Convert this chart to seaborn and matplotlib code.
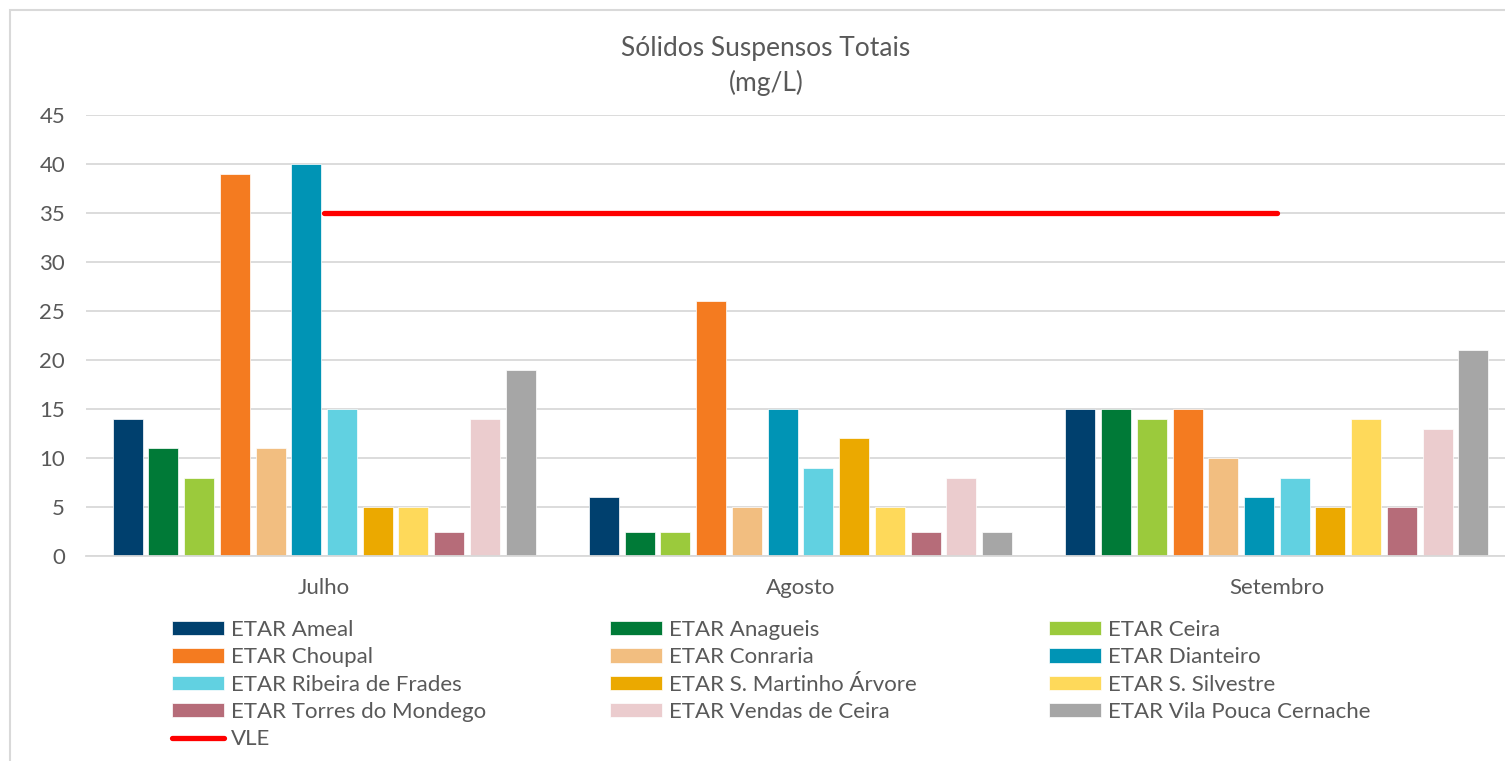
import pandas as pd
import matplotlib
matplotlib.use('Agg')
import matplotlib.pyplot as plt
from matplotlib.patches import Rectangle
import seaborn as sns

# data
meses = ['Julho', 'Agosto', 'Setembro']
etars = ['ETAR Ameal', 'ETAR Anagueis', 'ETAR Ceira', 'ETAR Choupal', 'ETAR Conraria',
         'ETAR Dianteiro', 'ETAR Ribeira de Frades', 'ETAR S. Martinho Árvore',
         'ETAR S. Silvestre', 'ETAR Torres do Mondego', 'ETAR Vendas de Ceira',
         'ETAR Vila Pouca Cernache']
julho = [14, 11, 8, 39, 11, 40, 15, 5, 5, 2.5, 14, 19]
agosto = [6, 2.5, 2.5, 26, 5, 15, 9, 12, 5, 2.5, 8, 2.5]
setembro = [15, 15, 14, 15, 10, 6, 8, 5, 14, 5, 13, 21]
vle = [35, 35, 35]
cores = ['#00406E', '#007A37', '#9BCA3C', '#F47B20', '#F2BE80', '#0094B5',
         '#61D1E1', '#EBA900', '#FED95A', '#B66C79', '#EBCCCE', '#A6A6A6']

rows = []
for mes, vals in zip(meses, [julho, agosto, setembro]):
    for e, v in zip(etars, vals):
        rows.append({'mes': mes, 'etar': e, 'valor': v})
df = pd.DataFrame(rows)

sns.set_style('white')
plt.rcParams['font.family'] = ['Lato', 'DejaVu Sans']
txt = '#595959'

fig = plt.figure(figsize=(15.05, 7.61), dpi=100)
ax = fig.add_axes([86/1505, 1-556/761, 1429/1505, (556-115)/761])

sns.barplot(data=df, x='mes', y='valor', hue='etar', order=meses, hue_order=etars,
            palette=dict(zip(etars, cores)), saturation=1, width=0.9, gap=0.16, ax=ax,
            edgecolor='white', linewidth=0.5, errorbar=None)
ax.plot(range(len(meses)), vle, color='#FF0000', linewidth=3.8,
        solid_capstyle='round', label='VLE', zorder=5)

ax.set_ylim(0, 45)
ax.set_xlim(-0.5, 2.5)
ax.set_yticks(range(0, 50, 5))
ax.grid(axis='y', color='#D9D9D9', linewidth=1.3)
ax.set_axisbelow(True)
for s in ['top', 'right', 'left']:
    ax.spines[s].set_visible(False)
ax.spines['bottom'].set_color('#D9D9D9')
ax.spines['bottom'].set_linewidth(1.3)
ax.tick_params(axis='both', length=0, labelsize=16, labelcolor=txt)
ax.tick_params(axis='y', pad=15)
ax.tick_params(axis='x', pad=16)
ax.set_xlabel('')
ax.set_ylabel('')

fig.text(766/1505, 1-66/761, 'Sólidos Suspensos Totais\n(mg/L)', ha='center', va='center',
         fontsize=19, color=txt, linespacing=1.45)

# legend: three columns, filled row by row like the original
handles, labels = ax.get_legend_handles_labels()
ax.get_legend().remove()
cols = [[0, 3, 6, 9, 12], [1, 4, 7, 10], [2, 5, 8, 11]]
xs = [172, 610, 1049]
for idx, x0 in zip(cols, xs):
    leg = fig.legend([handles[i] for i in idx], [labels[i] for i in idx], ncol=1,
                     loc='upper left', bbox_to_anchor=(x0/1505, 1-620/761), frameon=False,
                     fontsize=16, handlelength=2.35, handleheight=0.6, handletextpad=0.3,
                     labelspacing=0.33, borderaxespad=0, borderpad=0)
    for t in leg.get_texts():
        t.set_color(txt)

# outer frame
fig.patches.append(Rectangle((10/1505, -0.1), 1.2, 1-10/761+0.1, transform=fig.transFigure,
                             fill=False, edgecolor='#D9D9D9', linewidth=1.5))

fig.savefig('out.png', dpi=100)
